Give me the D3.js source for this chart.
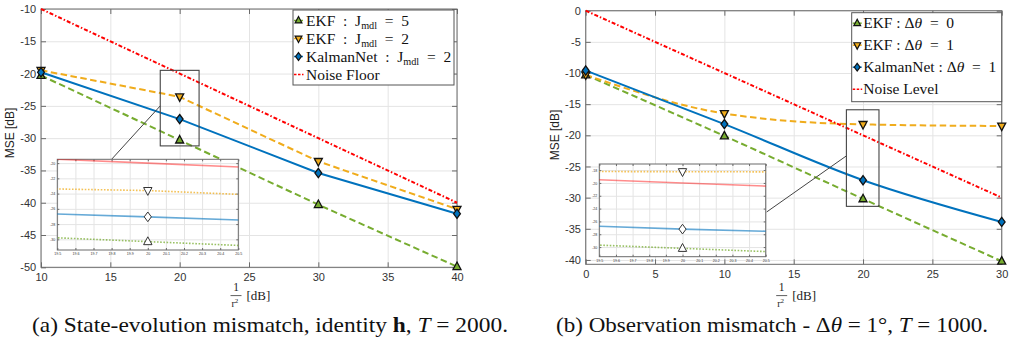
<!DOCTYPE html>
<html>
<head>
<meta charset="utf-8">
<script src="https://cdn.jsdelivr.net/npm/d3@7"></script>
<style>
body{margin:0;background:#fff;}
svg{display:block;}
</style>
</head>
<body>
<div id="fig"></div>
<script>
// MSE vs 1/r^2 for the two mismatch cases, with zoomed insets around 20 dB.

var snrA   = [10, 20, 30, 40];
var ekfJ5  = [-20.3, -30.3, -40.3, -49.9];
var ekfJ2  = [-19.5, -23.6, -33.6, -41.0];
var knetJ2 = [-19.8, -27.05, -35.4, -41.7];
var floorA = [-10, -20, -30, -40];

var snrB   = [0, 10, 20, 30];
var ekfD0  = [-10.3, -20.1, -30.2, -40.2];
var ekfD1  = [-10.3, -16.5, -18.25, -18.5];
var knetD1 = [-9.6, -18.2, -27.2, -33.9];
var levelB = [0, -10, -20, -30];

var ticksAx = [10, 15, 20, 25, 30, 35, 40];
var ticksAy = [-50, -45, -40, -35, -30, -25, -20, -15, -10];
var ticksBx = [0, 5, 10, 15, 20, 25, 30];
var ticksBy = [-40, -35, -30, -25, -20, -15, -10, -5, 0];
var insetTx = [19.5, 19.6, 19.7, 19.8, 19.9, 20, 20.1, 20.2, 20.3, 20.4, 20.5];
var insetAy = [-30, -28, -26, -24, -22, -20];
var insetBy = [-30, -28, -26, -24, -22, -20, -18];

var legendA = [
    [["EKF\u2002:\u2002J", ""], ["mdl", "sub"], ["\u2002=\u20025", ""]],
    [["EKF\u2002:\u2002J", ""], ["mdl", "sub"], ["\u2002=\u20022", ""]],
    [["KalmanNet\u2002:\u2002J", ""], ["mdl", "sub"], ["\u2002=\u20022", ""]],
    [["Noise Floor", ""]]
];
var legendB = [
    [["EKF : \u0394", ""], ["\u03b8", "it"], ["\u2002=\u20020", ""]],
    [["EKF : \u0394", ""], ["\u03b8", "it"], ["\u2002=\u20021", ""]],
    [["KalmanNet : \u0394", ""], ["\u03b8", "it"], ["\u2002=\u20021", ""]],
    [["Noise Level", ""]]
];
var captions = [
    [["(a) State-evolution mismatch, identity ", ""], ["h", "b"], [", ", ""], ["T", "it"], [" = 2000.", ""]],
    [["(b) Observation mismatch - \u0394", ""], ["\u03b8", "it"], [" = 1\u00b0, ", ""], ["T", "it"], [" = 1000.", ""]]
];

var fig = {
    param: {
	width: 1015,
	height: 343,
	sans: '"Liberation Sans", Arial, sans-serif',
	serif: '"Liberation Serif", "Times New Roman", serif',
	grid: "#e4e4e4",
	axis: "#6a6a6a",
	green: "#77AC30",
	orange: "#F0AC1C",
	blue: "#0072BD",
	red: "#FF0000"
    },

    init: function(){
	var param = fig.param;
	var svg = d3.select("#fig").append("svg")
	    .attr("width", param.width)
	    .attr("height", param.height);

	var dash = "6.5,3.5", dashdot = "4,2,1.5,2";
	fig.panel(svg, {
	    box: [41, 9, 457, 267.3], xDom: [10, 40], yDom: [-50, -10],
	    xTicks: ticksAx, yTicks: ticksAy, xs: snrA, curve: d3.curveLinear,
	    series: [
		{y: ekfJ5, color: param.green, dash: dash, mark: "up"},
		{y: ekfJ2, color: param.orange, dash: dash, mark: "down"},
		{y: knetJ2, color: param.blue, dash: null, mark: "diamond"},
		{y: floorA, color: param.red, dash: dashdot, mark: null}
	    ],
	    legend: legendA, legendBox: [293, 10, 161, 75], legendStep: 18, legendFont: 15.5, legendText: 13,
	    zoom: {x: [18.6, 21.4], y: [-31.2, -19.5], linkY: -25.0},
	    inset: {box: [57.3, 159.3, 238.3, 250], xDom: [19.5, 20.5], yDom: [-31.4, -19.5], yTicks: insetAy, linkAt: "top", linkFrac: 0.30},
	    yLabel: [14, 133], xLabel: 236, caption: captions[0], captionX: [32, 508]
	});
	fig.panel(svg, {
	    box: [585.7, 10.7, 1001.7, 264.3], xDom: [0, 30], yDom: [-40.7, 0],
	    xTicks: ticksBx, yTicks: ticksBy, xs: snrB, curve: d3.curveMonotoneX,
	    series: [
		{y: ekfD0, color: param.green, dash: dash, mark: "up"},
		{y: ekfD1, color: param.orange, dash: dash, mark: "down"},
		{y: knetD1, color: param.blue, dash: null, mark: "diamond"},
		{y: levelB, color: param.red, dash: dashdot, mark: null}
	    ],
	    legend: legendB, legendBox: [851.7, 12.7, 150, 89], legendStep: 22, legendFont: 15.5, legendText: 11.5,
	    zoom: {x: [18.8, 21.15], y: [-31.4, -15.9], linkY: -23.3},
	    inset: {box: [599.3, 164, 765.7, 256.7], xDom: [19.5, 20.5], yDom: [-31.5, -17.05], yTicks: insetBy, linkAt: "right", linkFrac: 0.525},
	    yLabel: [559, 135], xLabel: 781.7, caption: captions[1], captionX: [556, 988]
	});
    },

    // marker outline centred on 0,0
    markPath: function(kind, k){
	k = k || 1;
	var p;
	if(kind == "up") p = [[0,-4.6],[4,2.9],[-4,2.9]];
	else if(kind == "down") p = [[0,4.6],[4,-2.9],[-4,-2.9]];
	else p = [[0,-4.6],[3.4,0],[0,4.6],[-3.4,0]];
	return "M" + p.map(function(d){ return [d[0]*k, d[1]*k].join(","); }).join("L") + "Z";
    },

    rich: function(text, parts, size){
	var shift = 0;
	parts.forEach(function(p){
	    var t = text.append("tspan").text(p[0]);
	    if(p[1] == "sub"){
		t.attr("font-size", size * 0.66).attr("dy", size * 0.22 - shift);
		shift = size * 0.22;
	    }else{
		if(shift) t.attr("dy", -shift);
		shift = 0;
		if(p[1] == "it") t.attr("font-style", "italic");
		if(p[1] == "b") t.attr("font-weight", "bold");
	    }
	});
	return text;
    },

    frame: function(g, x, y, b, xTicks, yTicks, tick, pad, fs, labels){
	var param = fig.param;
	var w = b[2] - b[0], h = b[3] - b[1];
	g.append("g").attr("transform", "translate(0," + b[3] + ")")
	    .call(d3.axisBottom(x).tickValues(xTicks).tickSize(-h).tickFormat(""))
	    .call(function(a){ a.select(".domain").remove(); a.selectAll("line").attr("stroke", param.grid); });
	g.append("g").attr("transform", "translate(" + b[0] + ",0)")
	    .call(d3.axisLeft(y).tickValues(yTicks).tickSize(-w).tickFormat(""))
	    .call(function(a){ a.select(".domain").remove(); a.selectAll("line").attr("stroke", param.grid); });

	var styl = function(a){
	    a.select(".domain").remove();
	    a.selectAll("line").attr("stroke", param.axis);
	    a.selectAll("text").attr("font-family", param.sans).attr("font-size", fs).attr("fill", "#333");
	};
	g.append("g").attr("transform", "translate(0," + b[3] + ")")
	    .call(d3.axisBottom(x).tickValues(xTicks).tickSizeInner(-tick).tickSizeOuter(0).tickPadding(pad).tickFormat(labels ? d3.format("") : ""))
	    .call(styl);
	g.append("g").attr("transform", "translate(0," + b[1] + ")")
	    .call(d3.axisTop(x).tickValues(xTicks).tickSizeInner(-tick).tickSizeOuter(0).tickFormat(""))
	    .call(styl);
	g.append("g").attr("transform", "translate(" + b[0] + ",0)")
	    .call(d3.axisLeft(y).tickValues(yTicks).tickSizeInner(-tick).tickSizeOuter(0).tickPadding(pad * 0.8).tickFormat(labels ? function(d){ return String(d); } : ""))
	    .call(styl);
	g.append("g").attr("transform", "translate(" + b[2] + ",0)")
	    .call(d3.axisRight(y).tickValues(yTicks).tickSizeInner(-tick).tickSizeOuter(0).tickFormat(""))
	    .call(styl);
	g.append("rect").attr("x", b[0]).attr("y", b[1]).attr("width", w).attr("height", h)
	    .attr("fill", "none").attr("stroke", param.axis).attr("stroke-width", 1);
    },

    panel: function(svg, p){
	var param = fig.param;
	var b = p.box;
	var g = svg.append("g");
	var x = d3.scaleLinear().domain(p.xDom).range([b[0], b[2]]);
	var y = d3.scaleLinear().domain(p.yDom).range([b[3], b[1]]);

	fig.frame(g, x, y, b, p.xTicks, p.yTicks, 5, 6, 11, true);

	var line = d3.line().curve(p.curve)
	    .x(function(d){ return x(d[0]); }).y(function(d){ return y(d[1]); });
	p.series.forEach(function(s){
	    var pts = p.xs.map(function(v, i){ return [v, s.y[i]]; });
	    g.append("path").attr("d", line(pts)).attr("fill", "none")
		.attr("stroke", s.color).attr("stroke-width", 2)
		.attr("stroke-dasharray", s.dash);
	});
	p.series.forEach(function(s){
	    if(!s.mark) return;
	    g.selectAll(null).data(p.xs.map(function(v, i){ return [v, s.y[i]]; })).join("path")
		.attr("transform", function(d){ return "translate(" + x(d[0]) + "," + y(d[1]) + ")"; })
		.attr("d", fig.markPath(s.mark))
		.attr("fill", s.color).attr("stroke", "#111").attr("stroke-width", 1.3);
	});

	// zoom window and link to the inset
	var z = p.zoom, ib = p.inset.box;
	g.append("rect").attr("x", x(z.x[0])).attr("y", y(z.y[1]))
	    .attr("width", x(z.x[1]) - x(z.x[0])).attr("height", y(z.y[0]) - y(z.y[1]))
	    .attr("fill", "none").attr("stroke", "#444").attr("stroke-width", 1.1);
	var end = p.inset.linkAt == "top"
	    ? [ib[0] + (ib[2] - ib[0]) * p.inset.linkFrac, ib[1]]
	    : [ib[2], ib[1] + (ib[3] - ib[1]) * p.inset.linkFrac];
	g.append("line").attr("x1", x(z.x[0])).attr("y1", y(z.linkY))
	    .attr("x2", end[0]).attr("y2", end[1]).attr("stroke", "#444").attr("stroke-width", 1);

	fig.inset(svg, p);
	fig.legend(svg, p);

	// axis labels
	svg.append("text").attr("transform", "translate(" + p.yLabel[0] + "," + p.yLabel[1] + ") rotate(-90)")
	    .attr("text-anchor", "middle").attr("font-family", param.sans).attr("font-size", 12)
	    .attr("fill", "#222").text("MSE [dB]");
	var cx = p.xLabel;
	svg.append("text").attr("x", cx).attr("y", 291).attr("text-anchor", "middle")
	    .attr("font-family", param.serif).attr("font-size", 11.5).attr("fill", "#222").text("1");
	svg.append("line").attr("x1", cx - 5.5).attr("x2", cx + 5.5).attr("y1", 295.6).attr("y2", 295.6)
	    .attr("stroke", "#333").attr("stroke-width", 0.8);
	var r2 = svg.append("text").attr("x", cx - 4.5).attr("y", 307)
	    .attr("font-family", param.serif).attr("font-size", 10).attr("fill", "#222");
	r2.append("tspan").text("r");
	r2.append("tspan").attr("font-size", 7).attr("dy", -4).text("2");
	svg.append("text").attr("x", cx + 10.5).attr("y", 299.5)
	    .attr("font-family", param.serif).attr("font-size", 13).attr("fill", "#222").text("[dB]");

	var cap = svg.append("text").attr("x", p.captionX[0]).attr("y", 331.5)
	    .attr("font-family", param.serif).attr("font-size", 21).attr("fill", "#111")
	    .attr("textLength", p.captionX[1] - p.captionX[0]).attr("lengthAdjust", "spacingAndGlyphs");
	fig.rich(cap, p.caption, 21);
    },

    inset: function(svg, p){
	var param = fig.param;
	var ins = p.inset, b = ins.box;
	var g = svg.append("g");
	var x = d3.scaleLinear().domain(ins.xDom).range([b[0], b[2]]);
	var y = d3.scaleLinear().domain(ins.yDom).range([b[3], b[1]]);
	var id = "clip" + Math.round(b[0]);

	g.append("rect").attr("x", b[0]).attr("y", b[1]).attr("width", b[2] - b[0]).attr("height", b[3] - b[1])
	    .attr("fill", "#fff");
	g.append("clipPath").attr("id", id).append("rect")
	    .attr("x", b[0]).attr("y", b[1]).attr("width", b[2] - b[0]).attr("height", b[3] - b[1]);

	fig.frame(g, x, y, b, insetTx, ins.yTicks, 2, 2.5, 3.6, true);

	var line = d3.line().curve(p.curve)
	    .x(function(d){ return x(d[0]); }).y(function(d){ return y(d[1]); });
	var lines = g.append("g").attr("clip-path", "url(#" + id + ")");
	p.series.forEach(function(s){
	    var pts = p.xs.map(function(v, i){ return [v, s.y[i]]; });
	    var solid = !s.mark || !s.dash;
	    lines.append("path").attr("d", line(pts)).attr("fill", "none")
		.attr("stroke", s.color).attr("stroke-width", 1.6)
		.attr("stroke-opacity", s.mark ? (s.dash ? 0.75 : 0.6) : 0.45)
		.attr("stroke-dasharray", solid ? null : "1.6,1.6");
	});
	p.series.forEach(function(s){
	    if(!s.mark) return;
	    var pts = p.xs.map(function(v, i){ return [v, s.y[i]]; })
		.filter(function(d){ return d[0] >= ins.xDom[0] && d[0] <= ins.xDom[1]; });
	    g.selectAll(null).data(pts).join("path")
		.attr("transform", function(d){ return "translate(" + x(d[0]) + "," + y(d[1]) + ")"; })
		.attr("d", fig.markPath(s.mark, 1.05))
		.attr("fill", "#fff").attr("stroke", "#333").attr("stroke-width", 1);
	});
    },

    legend: function(svg, p){
	var param = fig.param;
	var lb = p.legendBox;
	var g = svg.append("g");
	g.append("rect").attr("x", lb[0]).attr("y", lb[1]).attr("width", lb[2]).attr("height", lb[3])
	    .attr("fill", "#fff").attr("stroke", "#555").attr("stroke-width", 1);
	p.legend.forEach(function(parts, i){
	    var s = p.series[i];
	    var cy = lb[1] + 10.5 + i * p.legendStep;
	    g.append("line").attr("x1", lb[0] + 1).attr("x2", lb[0] + (s.mark ? 10 : 10.5))
		.attr("y1", cy).attr("y2", cy).attr("stroke", s.color).attr("stroke-width", 1.5)
		.attr("stroke-dasharray", s.mark ? null : "2.5,1.5");
	    if(s.mark){
		g.append("path").attr("transform", "translate(" + (lb[0] + 5.5) + "," + cy + ")")
		    .attr("d", fig.markPath(s.mark, 0.85))
		    .attr("fill", s.color).attr("stroke", "#111").attr("stroke-width", 1.2);
	    }
	    var t = g.append("text").attr("x", lb[0] + p.legendText).attr("y", cy + 5)
		.attr("font-family", param.serif).attr("font-size", p.legendFont).attr("fill", "#111");
	    fig.rich(t, parts, p.legendFont);
	});
    }
};

fig.init();
</script>
</body>
</html>
